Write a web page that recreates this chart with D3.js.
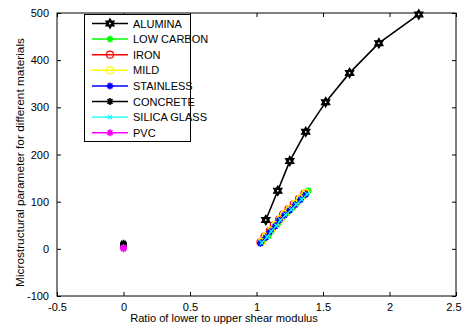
<!DOCTYPE html>
<html><head><meta charset="utf-8">
<script src="https://cdn.jsdelivr.net/npm/d3@7"></script>
<style>body{margin:0;background:#fff}svg{display:block}</style>
</head><body>
<script>
// ---- data ----
const seriesNames = ["ALUMINA","LOW CARBON","IRON","MILD","STAINLESS","CONCRETE","SILICA GLASS","PVC"];
const aluminaX = [1.07,1.16,1.25,1.37,1.52,1.70,1.92,2.22];
const aluminaY = [61,123,186,248,311,373,436,497];
const lowCarbonX = [1.05,1.09,1.12,1.16,1.19,1.23,1.27,1.31,1.35,1.39];
const lowCarbonY = [16,28,40,52,64,76,87,99,111,123];
const ironX = [1.03,1.06,1.10,1.13,1.17,1.20,1.24,1.28,1.32,1.36];
const ironY = [14,26,38,50,62,73,84,95,106,117];
const mildX = [1.04,1.07,1.11,1.14,1.18,1.21,1.25,1.29,1.33,1.37];
const mildY = [15,27,39,51,63,74,85,96,107,118];
const stainlessX = [1.03,1.07,1.10,1.14,1.17,1.21,1.25,1.29,1.33,1.37];
const stainlessY = [12,24,36,48,60,71,82,93,104,115];
const concreteX = [0,0,0];
const concreteY = [6,9,12];
const silicaX = [1.04,1.08,1.11,1.15,1.18,1.22,1.26,1.30,1.34,1.38];
const silicaY = [13,25,37,49,61,72,83,94,105,116];
const pvcX = [0,0];
const pvcY = [0,3];
const xTicks = [-0.5,0,0.5,1,1.5,2,2.5];
const yTicks = [-100,0,100,200,300,400,500];

const W=462,H=330;
const m={l:57,r:6,t:13,b:34};
const svg=d3.select("body").append("svg").attr("width",W).attr("height",H);
const x=d3.scaleLinear().domain([-0.5,2.5]).range([m.l,W-m.r]);
const y=d3.scaleLinear().domain([-100,500]).range([H-m.b,m.t]);
const font="Liberation Sans, Arial, sans-serif";

// frame
svg.append("rect").attr("x",x(-0.5)).attr("y",y(500)).attr("width",x(2.5)-x(-0.5)).attr("height",y(-100)-y(500))
  .attr("fill","none").attr("stroke","#000").attr("stroke-width",1);

// axes
const tl=-4;
const fmt=d=>String(d);
const gx=svg.append("g").attr("transform",`translate(0,${y(-100)})`)
  .call(d3.axisBottom(x).tickValues(xTicks).tickSize(tl).tickPadding(8).tickFormat(fmt));
const gxt=svg.append("g").attr("transform",`translate(0,${y(500)})`)
  .call(d3.axisTop(x).tickValues(xTicks).tickSize(tl).tickFormat(""));
const gy=svg.append("g").attr("transform",`translate(${x(-0.5)},0)`)
  .call(d3.axisLeft(y).tickValues(yTicks).tickSize(tl).tickPadding(8).tickFormat(fmt));
const gyr=svg.append("g").attr("transform",`translate(${x(2.5)},0)`)
  .call(d3.axisRight(y).tickValues(yTicks).tickSize(tl).tickFormat(""));
[gx,gxt,gy,gyr].forEach(g=>{g.select(".domain").remove();
  g.selectAll("text").attr("font-family",font).attr("font-size",11).attr("fill","#000");});
gx.selectAll("text").attr("dy","0.6em");
// last x tick label: keep inside the window
gx.selectAll("text").filter(d=>d===2.5).attr("text-anchor","end").attr("dx",5);

// axis titles
const xt=svg.append("text").attr("x",224).attr("y",322).attr("text-anchor","middle")
  .attr("font-family",font).attr("font-size",11).text("Ratio of lower to upper shear modulus");
const fitLen=(t,target)=>{const L=t.node().getComputedTextLength();const fs=+t.attr("font-size");t.attr("font-size",(fs*target/L).toFixed(2));};
fitLen(xt,188);
const yt=svg.append("text").attr("transform",`translate(24,162.5) rotate(-90)`).attr("text-anchor","middle")
  .attr("font-family",font).attr("font-size",11).text("Microstructural parameter for different materials");
fitLen(yt,249);

// markers
function hexagram(s){const r=s,ri=s*0.58;let p=[];for(let i=0;i<12;i++){const a=-Math.PI/2+i*Math.PI/6;const rr=i%2?ri:r;p.push([rr*Math.cos(a),rr*Math.sin(a)]);}return "M"+p.map(q=>q.join(",")).join("L")+"Z";}
function drawMarker(g,type,color,cx,cy){
  if(type==="hex"){g.append("path").attr("d",hexagram(4.8)).attr("transform",`translate(${cx},${cy})`)
      .attr("fill","#000").attr("stroke","#000").attr("stroke-width",1.2);
    g.append("circle").attr("cx",cx).attr("cy",cy).attr("r",0.9).attr("fill","#fff");}
  else if(type==="star"){const s=3.5;const d=`M${-s},0L${s},0M0,${-s}L0,${s}M${-s*0.7},${-s*0.7}L${s*0.7},${s*0.7}M${-s*0.7},${s*0.7}L${s*0.7},${-s*0.7}`;
    g.append("path").attr("d",d).attr("transform",`translate(${cx},${cy})`).attr("stroke",color).attr("stroke-width",1.6).attr("fill","none");
    g.append("circle").attr("cx",cx).attr("cy",cy).attr("r",2).attr("fill",color);}
  else if(type==="circle"){g.append("circle").attr("cx",cx).attr("cy",cy).attr("r",3.5).attr("fill","none").attr("stroke",color).attr("stroke-width",1.2);}
  else if(type==="x"){const s=2;g.append("path").attr("d",`M${-s},${-s}L${s},${s}M${-s},${s}L${s},${-s}`).attr("transform",`translate(${cx},${cy})`).attr("stroke",color).attr("stroke-width",1.2);}
}
const series=[
  {name:seriesNames[0],xs:aluminaX,ys:aluminaY,color:"#000",mk:"hex",lw:1.6},
  {name:seriesNames[1],xs:lowCarbonX,ys:lowCarbonY,color:"#00ff00",mk:"star",lw:1.5},
  {name:seriesNames[2],xs:ironX,ys:ironY,color:"#ff0000",mk:"circle",lw:1.5},
  {name:seriesNames[3],xs:mildX,ys:mildY,color:"#ffff00",mk:"circle",lw:1.5},
  {name:seriesNames[4],xs:stainlessX,ys:stainlessY,color:"#0000ff",mk:"star",lw:1.5},
  {name:seriesNames[5],xs:concreteX,ys:concreteY,color:"#000",mk:"star",lw:1.5},
  {name:seriesNames[6],xs:silicaX,ys:silicaY,color:"#00ffff",mk:"x",lw:1.2},
  {name:seriesNames[7],xs:pvcX,ys:pvcY,color:"#ff00ff",mk:"star",lw:1.5}
];
const line=d3.line().x(d=>x(d[0])).y(d=>y(d[1]));
const plot=svg.append("g");
series.forEach(s=>{
  const pts=s.xs.map((v,i)=>[v,s.ys[i]]);
  plot.append("path").attr("d",line(pts)).attr("fill","none").attr("stroke",s.color).attr("stroke-width",s.lw);
  pts.forEach(p=>drawMarker(plot,s.mk,s.color,x(p[0]),y(p[1])));
});

// legend
const lg=svg.append("g");
lg.append("rect").attr("x",84.5).attr("y",14.5).attr("width",106).attr("height",127).attr("fill","#fff").attr("stroke","#000").attr("stroke-width",1);
series.forEach((s,i)=>{
  const cy=23.5+i*15.6;
  lg.append("line").attr("x1",92).attr("x2",128).attr("y1",cy).attr("y2",cy).attr("stroke",s.color).attr("stroke-width",s.lw);
  drawMarker(lg,s.mk,s.color,110,cy);
  lg.append("text").attr("x",133).attr("y",cy+4).attr("font-family",font).attr("font-size",11).text(s.name);
});
</script>
</body></html>
